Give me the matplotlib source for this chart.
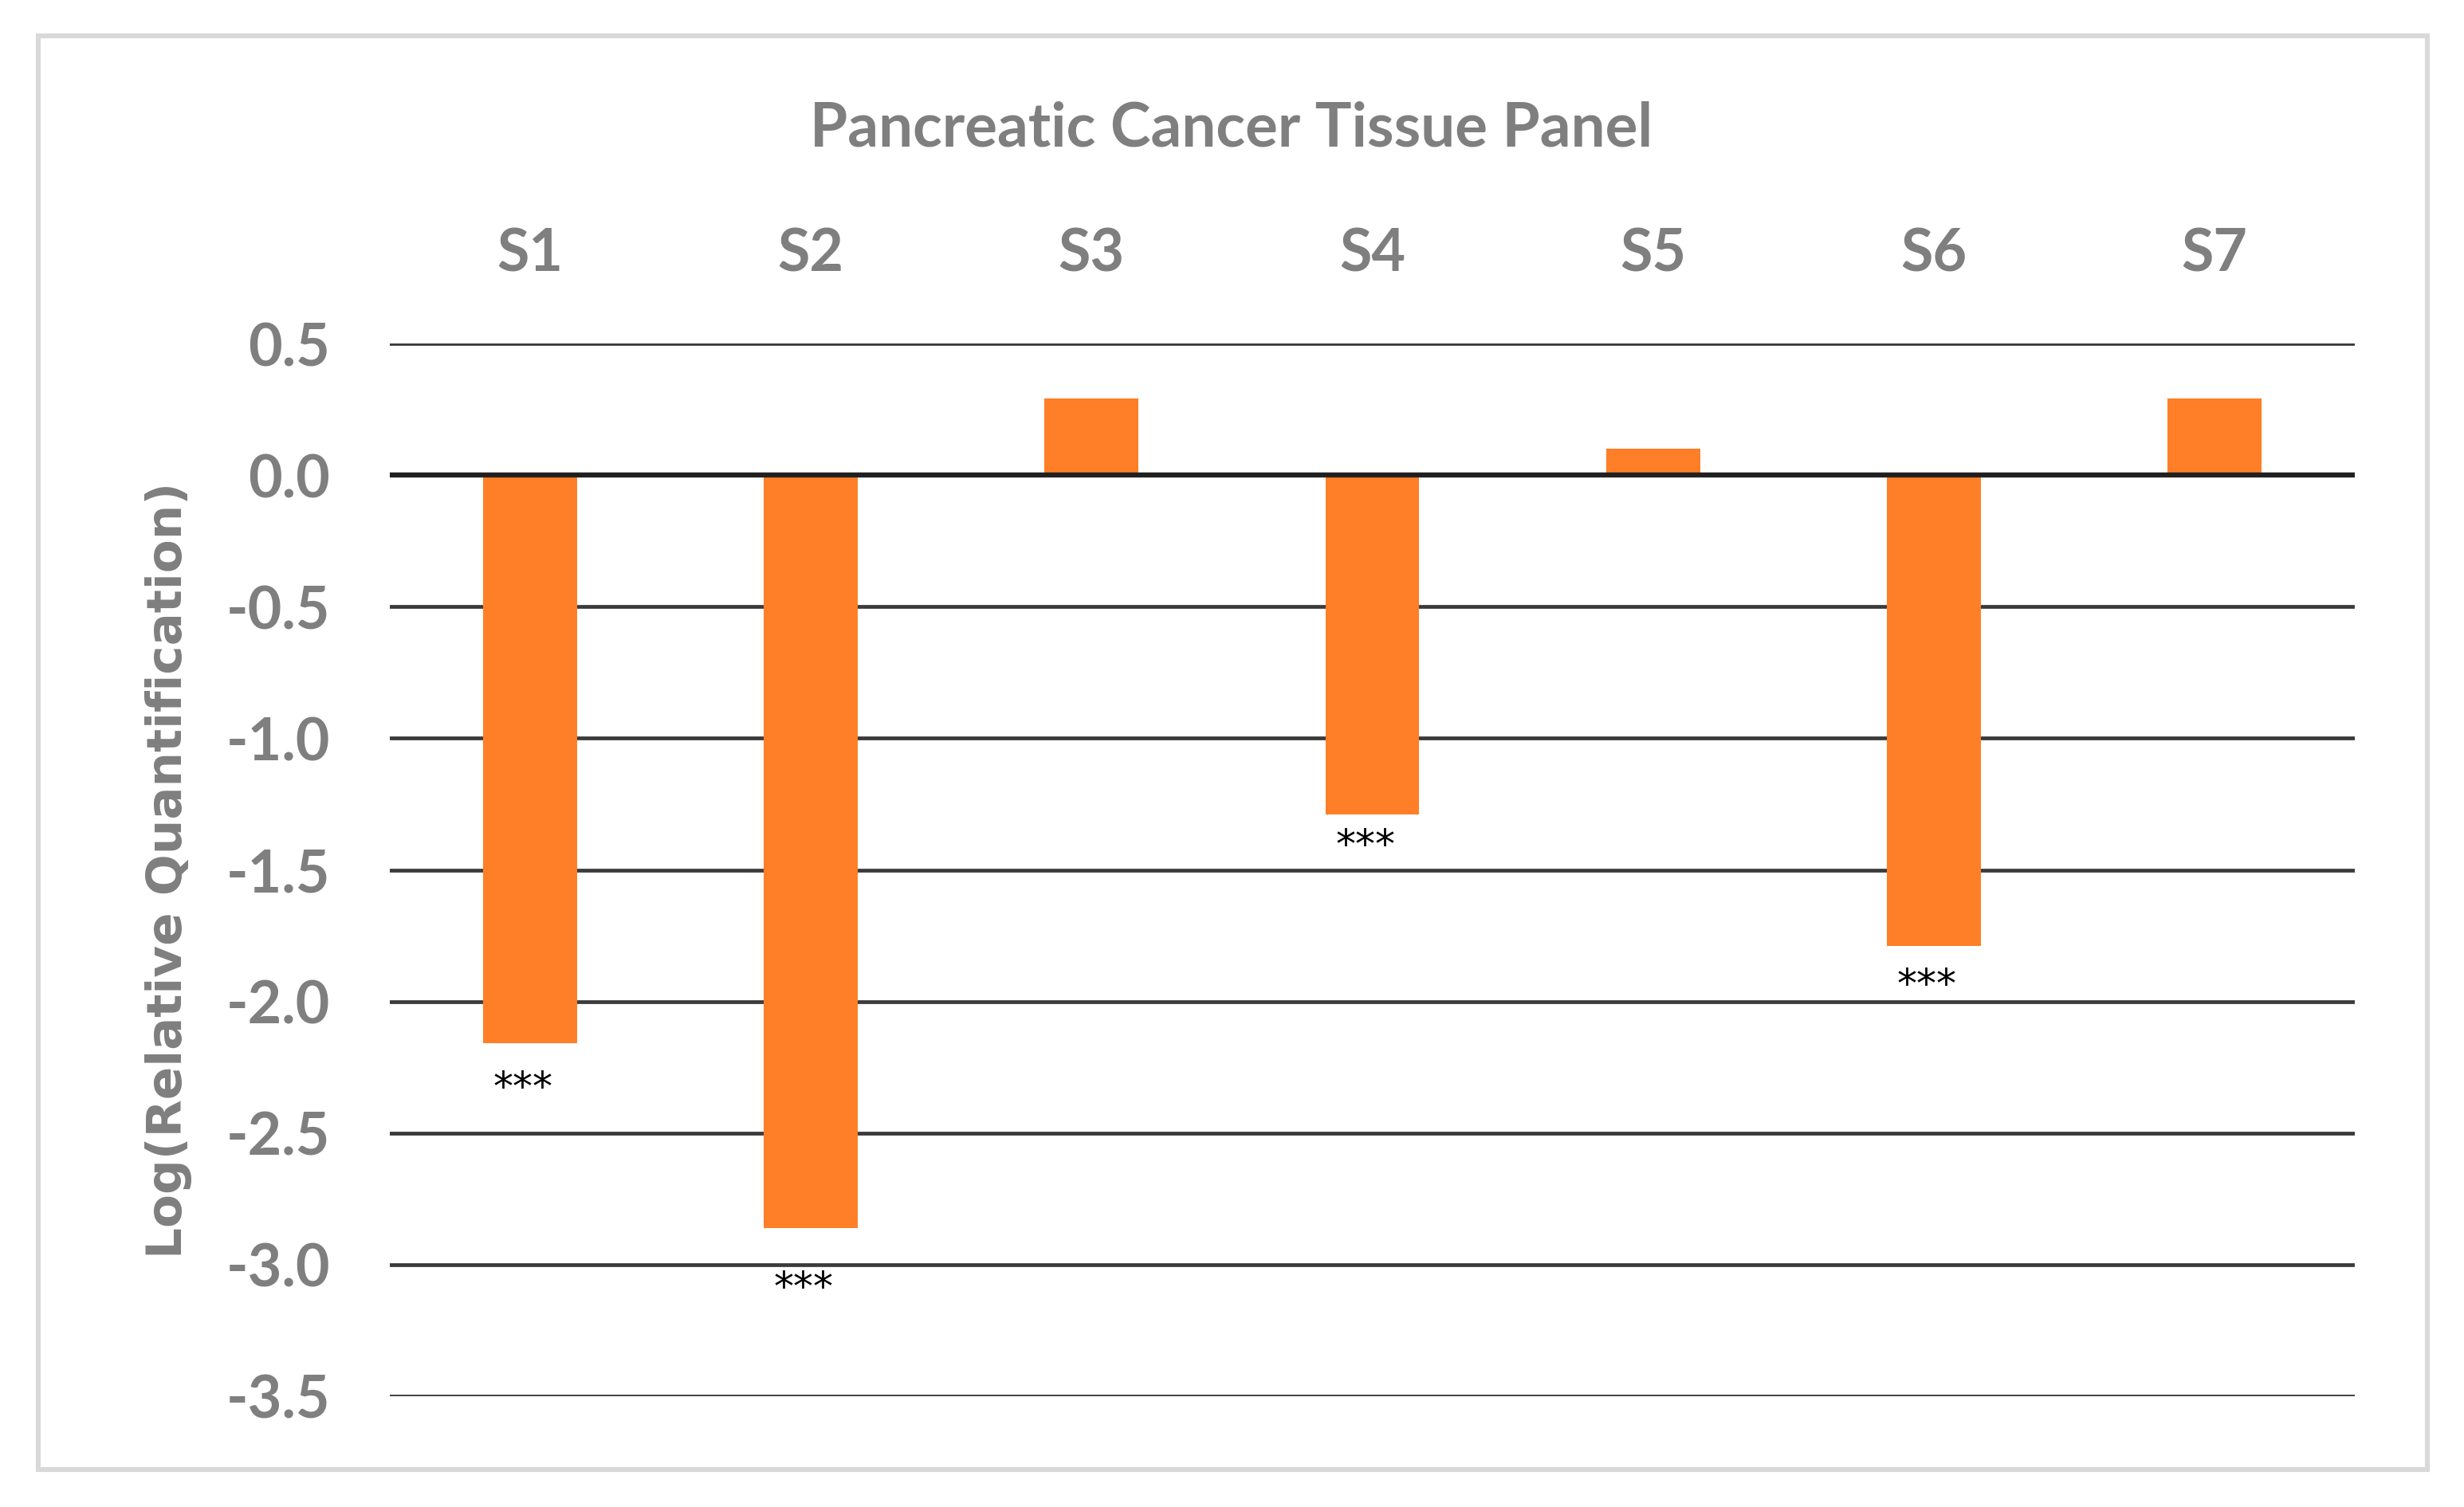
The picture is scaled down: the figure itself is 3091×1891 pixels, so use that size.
import matplotlib
matplotlib.use("Agg")
import matplotlib.pyplot as plt
from matplotlib.patches import Rectangle

categories = ["S1", "S2", "S3", "S4", "S5", "S6", "S7"]
values = [-2.16, -2.86, 0.29, -1.29, 0.10, -1.79, 0.29]
star_labels = ["***", "***", "", "***", "", "***", ""]
star_y = [-2.33, -3.09, None, -1.41, None, -1.94, None]
yticks = [0.5, 0.0, -0.5, -1.0, -1.5, -2.0, -2.5, -3.0, -3.5]
title = "Pancreatic Cancer Tissue Panel"
ylabel = "Log(Relative Quantification)"

W, H, DPI = 3091, 1891, 200
fig = plt.figure(figsize=(W / DPI, H / DPI), dpi=DPI)
fig.patch.set_facecolor("white")

# outer border
fig.patches.append(Rectangle((48 / W, 1 - 1844 / H), (3045 - 48) / W, (1844 - 45) / H,
                             transform=fig.transFigure, fill=False,
                             edgecolor="#D9D9D9", linewidth=2.2, zorder=0))

left, right, top, bottom = 489, 2954, 431, 1752
ax = fig.add_axes([left / W, 1 - bottom / H, (right - left) / W, (bottom - top) / H])

x = list(range(len(categories)))
ax.bar(x, values, width=0.335, color="#FE7F27", zorder=2)
ax.set_xlim(-0.5, len(categories) - 0.5)
ax.set_ylim(-3.5, 0.5)

for t in yticks:
    if t == 0:
        ax.axhline(t, color="#202020", linewidth=2.3, zorder=3)
    else:
        ax.axhline(t, color="#3A3A3A", linewidth=1.7, zorder=1)

for xi, s, sy in zip(x, star_labels, star_y):
    if s:
        ax.text(xi - 0.025, sy, s, ha="center", va="center", fontsize=18,
                family="DejaVu Sans", color="black", zorder=4)

for sp in ax.spines.values():
    sp.set_visible(False)

ax.xaxis.tick_top()
ax.set_xticks(x)
ax.set_xticklabels(categories, fontsize=26.5, fontweight="bold", color="#7F7F7F",
                   family="Lato")
ax.set_yticks(yticks)
ax.set_yticklabels([f"{t:.1f}" for t in yticks], fontsize=26.5, fontweight="bold",
                   color="#7F7F7F", family="Lato")
ax.tick_params(axis="both", length=0)
ax.tick_params(axis="y", pad=27)
ax.tick_params(axis="x", pad=28)

fig.text(1545 / W, 1 - 161 / H, title, ha="center", va="center", fontsize=27.5,
         color="#7F7F7F", family="Lato", fontweight="bold")
fig.text(212 / W, 1 - 1092 / H, ylabel, ha="center", va="center", rotation=90,
         fontsize=22, color="#7F7F7F", family="DejaVu Sans", fontweight="bold")

fig.savefig("out.png", dpi=DPI, facecolor="white")
